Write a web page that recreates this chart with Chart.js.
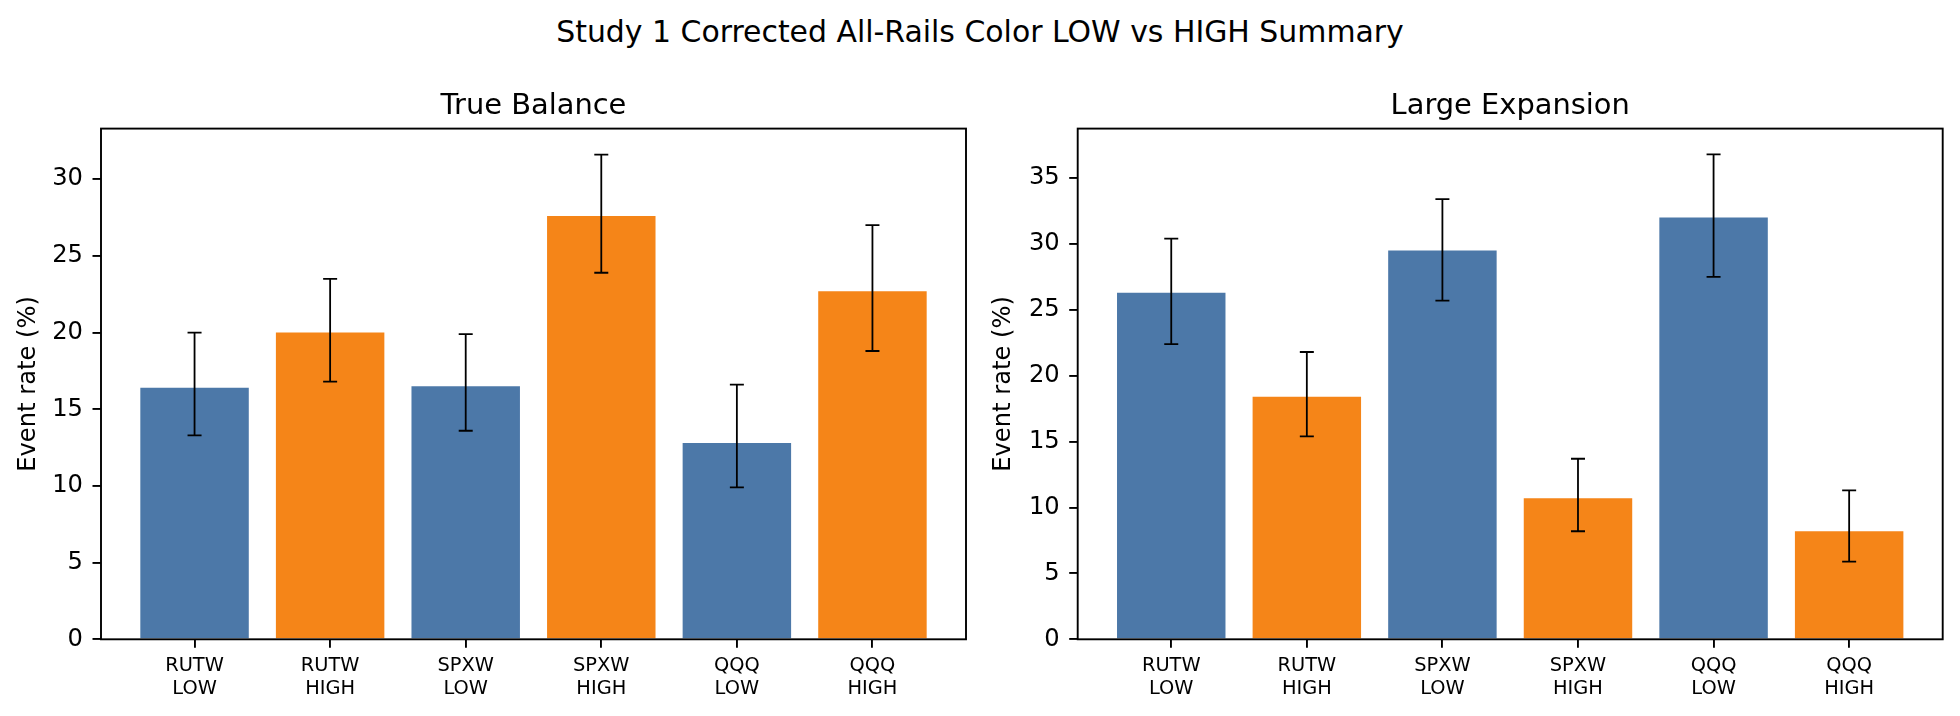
<!DOCTYPE html>
<html>
<head>
<meta charset="utf-8">
<script src="https://cdn.jsdelivr.net/npm/chart.js@4"></script>
<style>
  html, body { margin: 0; padding: 0; background: #fff; overflow: hidden; }
  body { width: 1960px; height: 716px; position: relative; font-family: "DejaVu Sans", sans-serif; }
  #suptitle { position: absolute; left: 0; width: 1960px; top: 13.9px; line-height: 35px; font-size: 29.9px; text-align: center; color: #000; }
  canvas { position: absolute; top: 0; }
</style>
</head>
<body>
<div id="suptitle">Study 1 Corrected All-Rails Color LOW vs HIGH Summary</div>
<canvas id="balanceChart" width="980" height="716" style="left:0px"></canvas>
<canvas id="expansionChart" width="980" height="716" style="left:980px"></canvas>
<script>
// categories, one per bar
const tickLabels = [['RUTW', 'LOW'], ['RUTW', 'HIGH'], ['SPXW', 'LOW'], ['SPXW', 'HIGH'], ['QQQ', 'LOW'], ['QQQ', 'HIGH']];
const levels = ['LOW', 'HIGH', 'LOW', 'HIGH', 'LOW', 'HIGH'];

// True Balance: event rate and interval bounds (%)
const balanceRate = [16.4, 20.0, 16.5, 27.6, 12.8, 22.7];
const balanceLo = [13.3, 16.8, 13.6, 23.9, 9.9, 18.8];
const balanceHi = [20.0, 23.5, 19.9, 31.6, 16.6, 27.0];

// Large Expansion
const expansionRate = [26.3, 18.4, 29.5, 10.7, 32.0, 8.2];
const expansionLo = [22.4, 15.4, 25.7, 8.2, 27.5, 5.9];
const expansionHi = [30.4, 21.8, 33.4, 13.7, 36.8, 11.3];

const balanceTicks = [0, 5, 10, 15, 20, 25, 30];
const expansionTicks = [0, 5, 10, 15, 20, 25, 30, 35];

const levelColors = { LOW: '#4c78a8', HIGH: '#f58518' };

Chart.defaults.font.family = 'DejaVu Sans';
Chart.defaults.color = '#000';

// asymmetric error bars, the axes box and the panel title
const errorBars = {
  id: 'errorBars',
  afterDatasetsDraw(chart, args, opts) {
    const { ctx, scales: { x, y } } = chart;
    ctx.save();
    ctx.strokeStyle = '#000';
    ctx.lineWidth = 1.8;
    opts.lo.forEach((lo, i) => {
      const px = x.getPixelForValue(i);
      const yLo = y.getPixelForValue(lo);
      const yHi = y.getPixelForValue(opts.hi[i]);
      ctx.beginPath();
      ctx.moveTo(px, yLo); ctx.lineTo(px, yHi);
      ctx.moveTo(px - 7, yLo); ctx.lineTo(px + 7, yLo);
      ctx.moveTo(px - 7, yHi); ctx.lineTo(px + 7, yHi);
      ctx.stroke();
    });
    ctx.restore();
  },
  afterDraw(chart, args, opts) {
    const { ctx, chartArea: a } = chart;
    ctx.save();
    ctx.strokeStyle = '#000';
    ctx.lineWidth = 1.9;
    ctx.strokeRect(a.left, a.top, a.right - a.left, a.bottom - a.top);
    ctx.fillStyle = '#000';
    ctx.font = '28.9px "DejaVu Sans"';
    ctx.textAlign = 'center';
    ctx.textBaseline = 'alphabetic';
    ctx.fillText(opts.title, (a.left + a.right) / 2, a.top - 14.3);
    ctx.restore();
  }
};

function makeChart(id, title, rate, lo, hi, yTicks, yMax, cfg) {
  new Chart(document.getElementById(id), {
    type: 'bar',
    data: {
      datasets: [{
        data: rate.map((v, i) => ({ x: i, y: v })),
        backgroundColor: levels.map(l => levelColors[l]),
        borderWidth: 0,
        barPercentage: 0.8,
        categoryPercentage: 1.0
      }]
    },
    options: {
      responsive: false,
      animation: false,
      layout: { padding: { left: 0, right: cfg.padRight, top: 128.6, bottom: 0 } },
      plugins: {
        legend: { display: false },
        tooltip: { enabled: false },
        title: { display: false },
        errorBars: { lo, hi, title }
      },
      scales: {
        x: {
          type: 'linear',
          min: -0.69,
          max: 5.69,
          offset: false,
          border: { display: false },
          grid: { drawOnChartArea: false, drawTicks: true, tickLength: 8.5, color: '#000', lineWidth: 1.9, offset: false },
          afterBuildTicks: s => { s.ticks = tickLabels.map((_, i) => ({ value: i })); },
          afterFit: s => { s.height = 76.7; },
          ticks: {
            font: { size: 19.4, lineHeight: 1.15 },
            color: '#000',
            padding: 7.4,
            maxRotation: 0,
            autoSkip: false,
            callback: v => tickLabels[v]
          }
        },
        y: {
          min: 0,
          max: yMax,
          border: { display: false },
          grid: { drawOnChartArea: false, drawTicks: true, tickLength: 8.5, color: '#000', lineWidth: 1.9 },
          afterBuildTicks: s => { s.ticks = yTicks.map(v => ({ value: v })); },
          afterFit: s => { s.width = cfg.yWidth; },
          ticks: { font: { size: 24.2 }, color: '#000', padding: 9.5 },
          title: {
            display: true,
            text: 'Event rate (%)',
            font: { size: 24.2, lineHeight: 1.2 },
            color: '#000',
            padding: { top: cfg.labelPad, bottom: 0 }
          }
        }
      }
    },
    plugins: [errorBars]
  });
}

makeChart('balanceChart', 'True Balance', balanceRate, balanceLo, balanceHi, balanceTicks, 33.3,
  { padRight: 14, yWidth: 101, labelPad: 14.5 });
makeChart('expansionChart', 'Large Expansion', expansionRate, expansionLo, expansionHi, expansionTicks, 38.75,
  { padRight: 17.3, yWidth: 97.7, labelPad: 9.5 });
</script>
</body>
</html>
